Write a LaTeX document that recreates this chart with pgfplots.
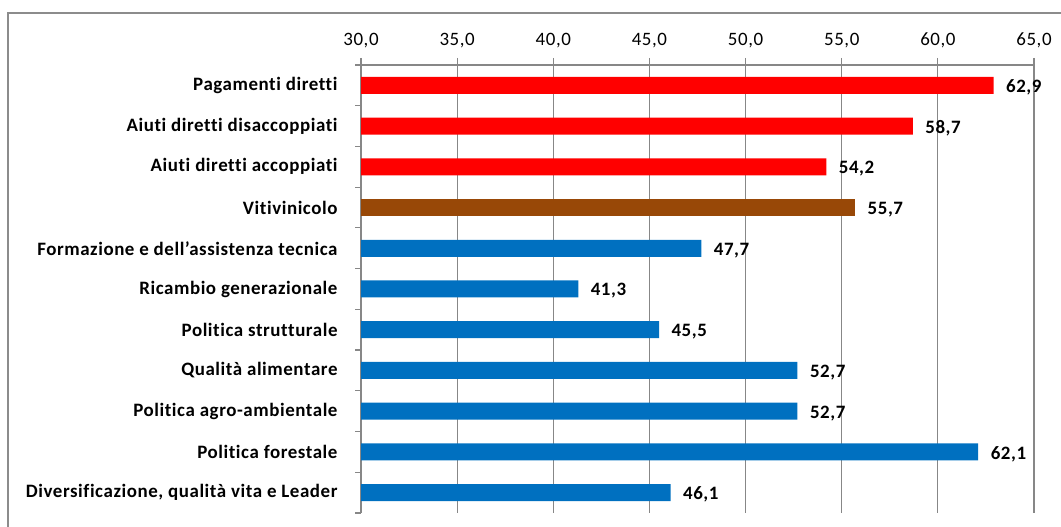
\documentclass[border=0pt]{standalone}
\usepackage{pgfplots}
\pgfplotsset{compat=1.18}
\usepackage{fontspec}
\setmainfont[Ligatures=NoCommon, LetterSpace=3]{Carlito}
\definecolor{barred}{HTML}{FF0000}
\definecolor{barbrown}{HTML}{984807}
\definecolor{barblue}{HTML}{0070C0}
\definecolor{axisgray}{HTML}{878787}
\definecolor{framegray}{HTML}{8C8C8C}
\begin{document}
\begin{tikzpicture}[x=1bp,y=1bp]
\useasboundingbox (0,0) rectangle (1061,527);
\draw[framegray, line width=1.3bp] (8,-10) rectangle (1080,514);
\begin{axis}[
  at={(361bp,14bp)}, anchor=south west,
  scale only axis, width=673bp, height=448bp,
  xbar, bar width=17bp, bar shift=0pt,
  xmin=30, xmax=65, ymin=-0.5, ymax=10.5,
  axis x line*=top, axis y line*=left,
  axis line style={axisgray, line width=1.2bp},
  tick align=outside,
  xtick={30,35,...,65},
  ytick={0,...,10},
  yticklabels={{Diversificazione, qualità vita e Leader},Politica forestale,Politica agro-ambientale,Qualità alimentare,Politica strutturale,Ricambio generazionale,Formazione e dell’assistenza tecnica,Vitivinicolo,Aiuti diretti accoppiati,Aiuti diretti disaccoppiati,Pagamenti diretti},
  minor ytick={-0.5,0.5,...,10.5},
  major y tick style={draw=none},
  minor tick length=6bp,
  major tick length=7bp,
  tick style={axisgray, line width=1.2bp},
  xmajorgrids,
  grid style={axisgray, line width=1.2bp},
  /pgf/number format/.cd, fixed, fixed zerofill, precision=1, use comma, assume math mode=true,
  /pgfplots/.cd,
  xticklabel style={font=\fontsize{19}{22}\selectfont, yshift=7bp},
  yticklabel style={font=\fontsize{19}{22}\selectfont\bfseries, xshift=-13bp},
  nodes near coords,
  every node near coord/.append style={font=\fontsize{19}{22}\selectfont\bfseries, color=black, anchor=west, xshift=9bp, yshift=-2bp},
]
\addplot[fill=barred, draw=none] coordinates {(62.9,10) (58.7,9) (54.2,8)};
\addplot[fill=barbrown, draw=none] coordinates {(55.7,7)};
\addplot[fill=barblue, draw=none] coordinates {(47.7,6) (41.3,5) (45.5,4) (52.7,3) (52.7,2) (62.1,1) (46.1,0)};
\end{axis}
\end{tikzpicture}
\end{document}
